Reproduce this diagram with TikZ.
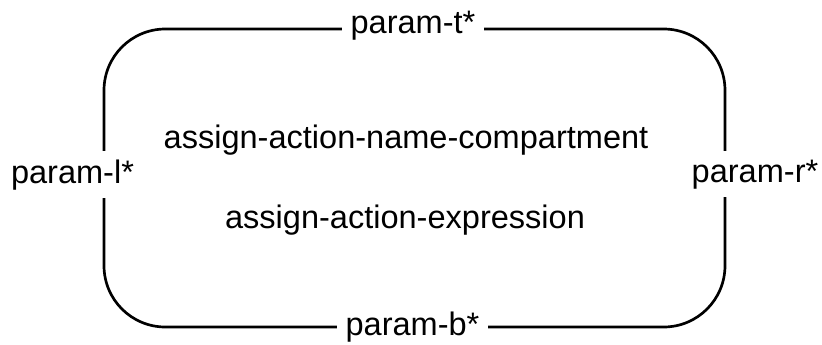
\documentclass[tikz,border=0pt]{standalone}
\usepackage{fontspec}
\setmainfont{Liberation Sans}
\usetikzlibrary{positioning}
\tikzset{
  frame/.style={draw, line width=2pt, rounded corners=46pt, minimum width=465.75pt, minimum height=223.5pt, inner sep=0pt},
  portlabel/.style={fill=white, inner sep=6.5pt, font=\fontsize{24.4}{28}\selectfont, anchor=base},
  bodytext/.style={font=\fontsize{24.4}{28}\selectfont, anchor=base, inner sep=0pt}
}
\begin{document}
\begin{tikzpicture}[x=0.75pt, y=-0.75pt]
  \useasboundingbox (0,0) rectangle (822,344);
  % action frame
  \node[frame] (action) at (414.5,178) {};
  % compartments
  \node[bodytext] (name) at (406,148) {assign-action-name-compartment};
  \node[bodytext] (expr) at (405,228) {assign-action-expression};
  % parameters on the border
  \node[portlabel] (pt) at (413,33) {param-t*};
  \node[portlabel] (pb) at (412.5,335) {param-b*};
  \node[portlabel] (pl) at (72.5,183) {param-l*};
  \node[portlabel] (pr) at (755,182) {param-r*};
\end{tikzpicture}
\end{document}
